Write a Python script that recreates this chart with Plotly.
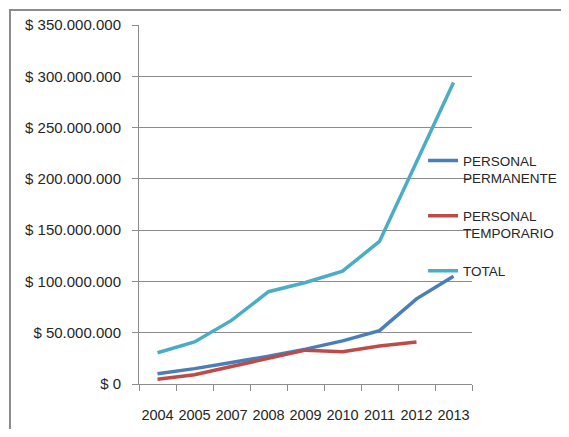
import plotly.graph_objects as go

years = ["2004", "2005", "2007", "2008", "2009", "2010", "2011", "2012", "2013"]
permanente = [10e6, 15e6, 21e6, 27e6, 34e6, 42e6, 52e6, 83e6, 105e6]
temporario = [4.6e6, 9e6, 17e6, 25e6, 33e6, 31.5e6, 37e6, 41e6, None]
total = [30.5e6, 41e6, 62e6, 90e6, 99e6, 110e6, 139e6, 216e6, 294e6]

series_names = ["PERSONAL<br>PERMANENTE", "PERSONAL<br>TEMPORARIO", "TOTAL"]
series_values = [permanente, temporario, total]
series_colors = ["#4A7EBB", "#BE4B48", "#4BACC6"]

FONT = "Liberation Sans, Arial, sans-serif"
TXT = "#262626"
GRID = "#8C8C8C"

# page body has an 8px margin on every side; keep the figure inside the window
OFF = 8
L, T, PW, PH = 139 - OFF, 25 - OFF, 333, 359
W, H = 569 - 2 * OFF, 437 - 2 * OFF

fig = go.Figure()
for i, (name, vals, col) in enumerate(zip(series_names, series_values, series_colors)):
    fig.add_trace(go.Scatter(
        x=years, y=vals, name=name, mode="lines",
        line=dict(color=col, width=3.5),
        connectgaps=False, legendgroup=f"g{i}",
    ))

fig.update_layout(
    width=W, height=H,
    margin=dict(l=L, r=W - L - PW, t=T, b=H - T - PH, autoexpand=False),
    paper_bgcolor="white", plot_bgcolor="white",
    separators=",.",
    font=dict(family=FONT, color=TXT, size=15),
    showlegend=True,
    legend=dict(
        x=0.853, y=0.665, xanchor="left", yanchor="top",
        bgcolor="rgba(0,0,0,0)", font=dict(size=13.5, family=FONT, color=TXT),
        valign="top", tracegroupgap=17,
    ),
    xaxis=dict(
        type="category", categoryorder="array", categoryarray=years,
        range=[-0.5, len(years) - 0.5],
        showgrid=False, showline=True, linecolor=GRID, linewidth=1,
        ticks="outside", tickson="boundaries", ticklen=6, tickcolor=GRID,
        tickfont=dict(size=14.5, family=FONT, color=TXT), tickangle=0,
        ticklabelstandoff=18, zeroline=False, automargin=False,
    ),
    yaxis=dict(
        range=[0, 350e6], dtick=50e6, tick0=0,
        showgrid=True, gridcolor=GRID, gridwidth=1,
        showline=True, linecolor=GRID, linewidth=1,
        ticks="outside", ticklen=6, tickcolor=GRID,
        tickprefix="$ ", tickformat=",d",
        tickfont=dict(size=15, family=FONT, color=TXT),
        ticklabelstandoff=8, zeroline=False, automargin=False,
    ),
    shapes=[dict(
        type="rect", xref="paper", yref="paper",
        x0=(10 - 139) / PW, x1=(650 - 139) / PW,
        y0=(384 - 480) / PH, y1=(384 - 10) / PH,
        line=dict(color="#8C8C8C", width=2), fillcolor="rgba(0,0,0,0)",
        layer="below",
    )],
)

fig.write_html("out.html")
